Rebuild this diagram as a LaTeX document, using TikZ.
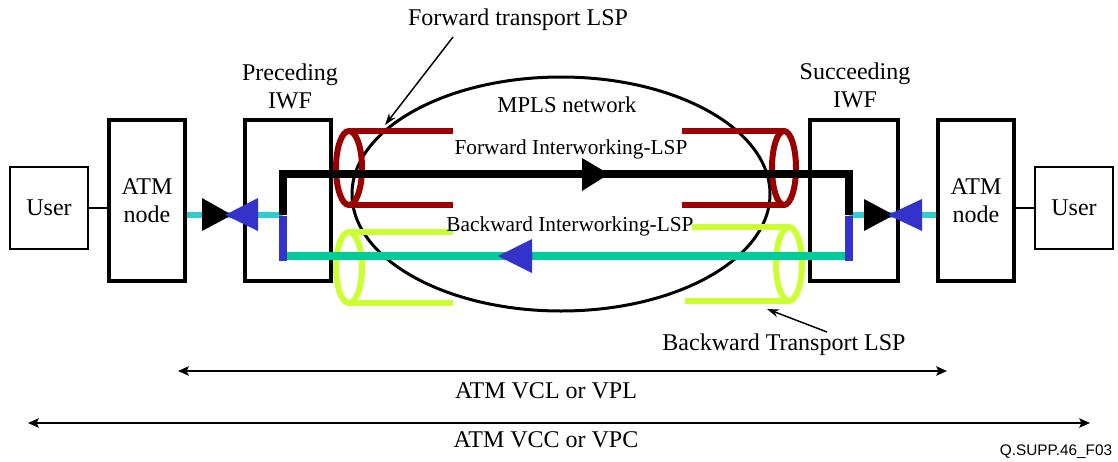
\documentclass[tikz,border=0pt]{standalone}
\usepackage{fontspec}
\setmainfont{Liberation Serif}
\newfontfamily\labelsans{Liberation Sans}
\usetikzlibrary{arrows.meta}
\definecolor{fwdred}{HTML}{990000}
\definecolor{bwdyel}{HTML}{CCFF33}
\definecolor{atmcyan}{HTML}{33CCCC}
\definecolor{bwdgreen}{HTML}{00CC99}
\definecolor{tipblue}{HTML}{3333CC}
\tikzset{
  userbox/.style={draw, line width=1pt, minimum width=78*0.75pt, minimum height=82*0.75pt, inner sep=0pt, font=\fontsize{18}{21}\selectfont},
  atmbox/.style={draw, line width=3pt, minimum width=76*0.75pt, minimum height=161*0.75pt, inner sep=0pt, align=center, font=\fontsize{18}{21}\selectfont},
  iwfbox/.style={draw, line width=3pt, minimum height=161*0.75pt, inner sep=0pt},
  bigtext/.style={inner sep=0pt, align=center, font=\fontsize{18}{21}\selectfont},
  midtext/.style={inner sep=0pt, font=\fontsize{16}{19}\selectfont},
  thinline/.style={line width=1.5pt},
  pointer/.style={line width=1.1pt, -{Stealth[length=9pt,width=6pt]}},
  span/.style={line width=1.5pt, {Stealth[length=8pt,width=7pt,inset=1.5pt]}-{Stealth[length=8pt,width=7pt,inset=1.5pt]}},
  fwdcyl/.style={draw=fwdred, line width=4.5pt},
  bwdcyl/.style={draw=bwdyel, line width=4.5pt},
}
\begin{document}
\begin{tikzpicture}[x=0.75pt,y=-0.75pt]
\useasboundingbox (0,0) rectangle (1118,461);

% boxes
\node[userbox] (userL) at (49,208) {User};
\node[atmbox] (atmL) at (147,200.5) {ATM\\node};
\node[iwfbox, minimum width=86*0.75pt] (iwfL) at (288,200.5) {};
\node[iwfbox, minimum width=88*0.75pt] (iwfR) at (854,200.5) {};
\node[atmbox] (atmR) at (976,200.5) {ATM\\node};
\node[userbox] (userR) at (1074,208) {User};

\draw[thinline] (userL.east) -- (userL.east -| atmL.west);
\draw[thinline] (userR.west) -- (userR.west -| atmR.east);

% MPLS network
\node[bigtext, font=\fontsize{17}{20}\selectfont] (mpls) at (567,105) {MPLS network};
\draw[line width=2.25pt] (561,194) ellipse [x radius=156.75pt, y radius=87.75pt];

% forward transport LSP (dark red)
\draw[fwdcyl] (349,131) -- (453,131);
\draw[fwdcyl] (349,205) -- (453,205);
\draw[fwdcyl] (349,168) ellipse [x radius=9.75pt, y radius=27.75pt];
\draw[fwdcyl] (682,131) -- (784,131);
\draw[fwdcyl] (682,205) -- (784,205);
\draw[fwdcyl] (784,168) ellipse [x radius=9pt, y radius=27.75pt];

% backward transport LSP (yellow-green)
\draw[bwdcyl] (349,232) -- (453,232);
\draw[bwdcyl] (349,303) -- (453,303);
\draw[bwdcyl] (349,267.5) ellipse [x radius=9.75pt, y radius=26.6pt];
\draw[bwdcyl] (692,227) -- (789,227);
\draw[bwdcyl] (685,301) -- (789,301);
\draw[bwdcyl] (789,264) ellipse [x radius=9.75pt, y radius=27.75pt];

% key points of the interworking LSPs
\coordinate (pL) at (283,215);
\coordinate (pR) at (849,215);
\coordinate (fL) at (283,174);
\coordinate (fR) at (849,174);
\coordinate (bL) at (283,256);
\coordinate (bR) at (849,256);

% cyan ATM links
\draw[atmcyan, line width=5pt] (atmL.east |- pL) -- (pL);
\draw[atmcyan, line width=5pt] (pR) -- (atmR.west |- pR);

% forward interworking LSP (black)
\draw[line width=6pt, line join=miter] (pL) -- (fL) -- (fR) -- (pR);
% backward interworking LSP (green)
\draw[bwdgreen, line width=6pt] (bL) -- (bR);
% blue end segments
\draw[tipblue, line width=6pt] (283,216) -- (283,261);
\draw[tipblue, line width=6pt] (849,216) -- (849,261);

% arrowheads
\fill (202,198) -- (202,231) -- (232,215) -- cycle;
\fill[tipblue] (258,198) -- (258,231) -- (225,215) -- cycle;
\fill (864,199) -- (864,231) -- (894,215) -- cycle;
\fill[tipblue] (922,199) -- (922,231) -- (888,215) -- cycle;
\fill (582,158) -- (582,191) -- (609,174) -- cycle;
\fill[tipblue] (532,239) -- (532,273) -- (498,256) -- cycle;

% labels
\node[midtext] (fwdlbl) at (571,149) {Forward Interworking-LSP};
\node[midtext] (bwdlbl) at (570,226) {Backward Interworking-LSP};
\node[bigtext] (precl) at (290,86) {Preceding\\IWF};
\node[bigtext] (succl) at (855,85) {Succeeding\\IWF};
\node[bigtext] (ftl) at (518,20) {Forward transport LSP};
\node[bigtext] (btl) at (784,345) {Backward Transport LSP};
\coordinate (ftStart) at (453,37);
\coordinate (ftTip) at (385,125);
\coordinate (btStart) at (827,332);
\coordinate (btTip) at (767,309);
\draw[pointer] (ftStart) -- (ftTip);
\draw[pointer] (btStart) -- (btTip);

% spans
\coordinate (vclL) at (178,371);
\coordinate (vclR) at (947,371);
\coordinate (vccL) at (28,423);
\coordinate (vccR) at (1090,423);
\draw[span] (vclL) -- (vclR);
\draw[span] (vccL) -- (vccR);
\node[bigtext] (vcl) at (546,391) {ATM VCL or VPL};
\node[bigtext] (vcc) at (546,440) {ATM VCC or VPC};
\node[inner sep=0pt, font=\labelsans\fontsize{11.5}{13}\selectfont] (fig) at (1056,452) {Q.SUPP.46\_F03};
\end{tikzpicture}
\end{document}
